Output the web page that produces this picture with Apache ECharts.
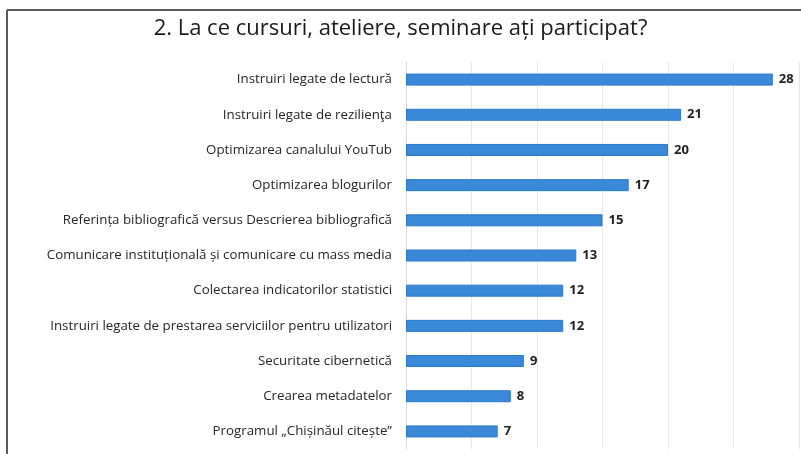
<!DOCTYPE html>
<html>
<head>
<meta charset="utf-8">
<script src="https://cdn.jsdelivr.net/npm/echarts@6/dist/echarts.min.js"></script>
<style>
html,body{margin:0;padding:0;background:#fff;}
#chart{width:801px;height:454px;}
</style>
</head>
<body>
<div id="chart"></div>
<script>
const titleText = '2. La ce cursuri, ateliere, seminare ați participat?';
const categories = [
  'Instruiri legate de lectură',
  'Instruiri legate de rezilienţa',
  'Optimizarea canalului YouTub',
  'Optimizarea blogurilor',
  'Referința bibliografică versus Descrierea bibliografică',
  'Comunicare instituțională și comunicare cu mass media',
  'Colectarea indicatorilor statistici',
  'Instruiri legate de prestarea serviciilor pentru utilizatori',
  'Securitate cibernetică',
  'Crearea metadatelor',
  'Programul „Chișinăul citește”'
];
const values = [28, 21, 20, 17, 15, 13, 12, 12, 9, 8, 7];

const chart = echarts.init(document.getElementById('chart'));
chart.setOption({
  backgroundColor: '#fff',
  animation: false,
  title: {
    text: titleText,
    left: 'center',
    top: 13,
    textStyle: {fontFamily: 'Open Sans', fontWeight: 'normal', fontSize: 22, color: '#1a1a1a'}
  },
  graphic: [
    {type: 'line', shape: {x1: 7, y1: 10, x2: 801, y2: 10}, style: {stroke: '#5a5a5a', lineWidth: 2}},
    {type: 'line', shape: {x1: 7, y1: 10, x2: 7, y2: 454}, style: {stroke: '#5a5a5a', lineWidth: 2}}
  ],
  grid: {left: 406, right: 2, top: 62, bottom: 5, containLabel: false},
  xAxis: {
    type: 'value', min: 0, max: 30, interval: 5,
    axisLabel: {show: false}, axisTick: {show: false}, axisLine: {show: false},
    splitLine: {show: true, lineStyle: {color: '#e8e8e8', width: 1}}
  },
  yAxis: {
    type: 'category', inverse: true, data: categories,
    axisTick: {show: false},
    axisLine: {show: true, lineStyle: {color: '#d9d9d9'}},
    axisLabel: {margin: 14, fontFamily: 'Open Sans', fontSize: 13.3, color: '#262626'}
  },
  series: [{
    type: 'bar', data: values, barWidth: 12,
    itemStyle: {color: '#3a89d8', borderColor: '#2a78c8', borderWidth: 1},
    label: {show: true, position: 'right', distance: 6, fontFamily: 'Open Sans', fontWeight: 'bold', fontSize: 13, color: '#222'}
  }]
});
</script>
</body>
</html>
